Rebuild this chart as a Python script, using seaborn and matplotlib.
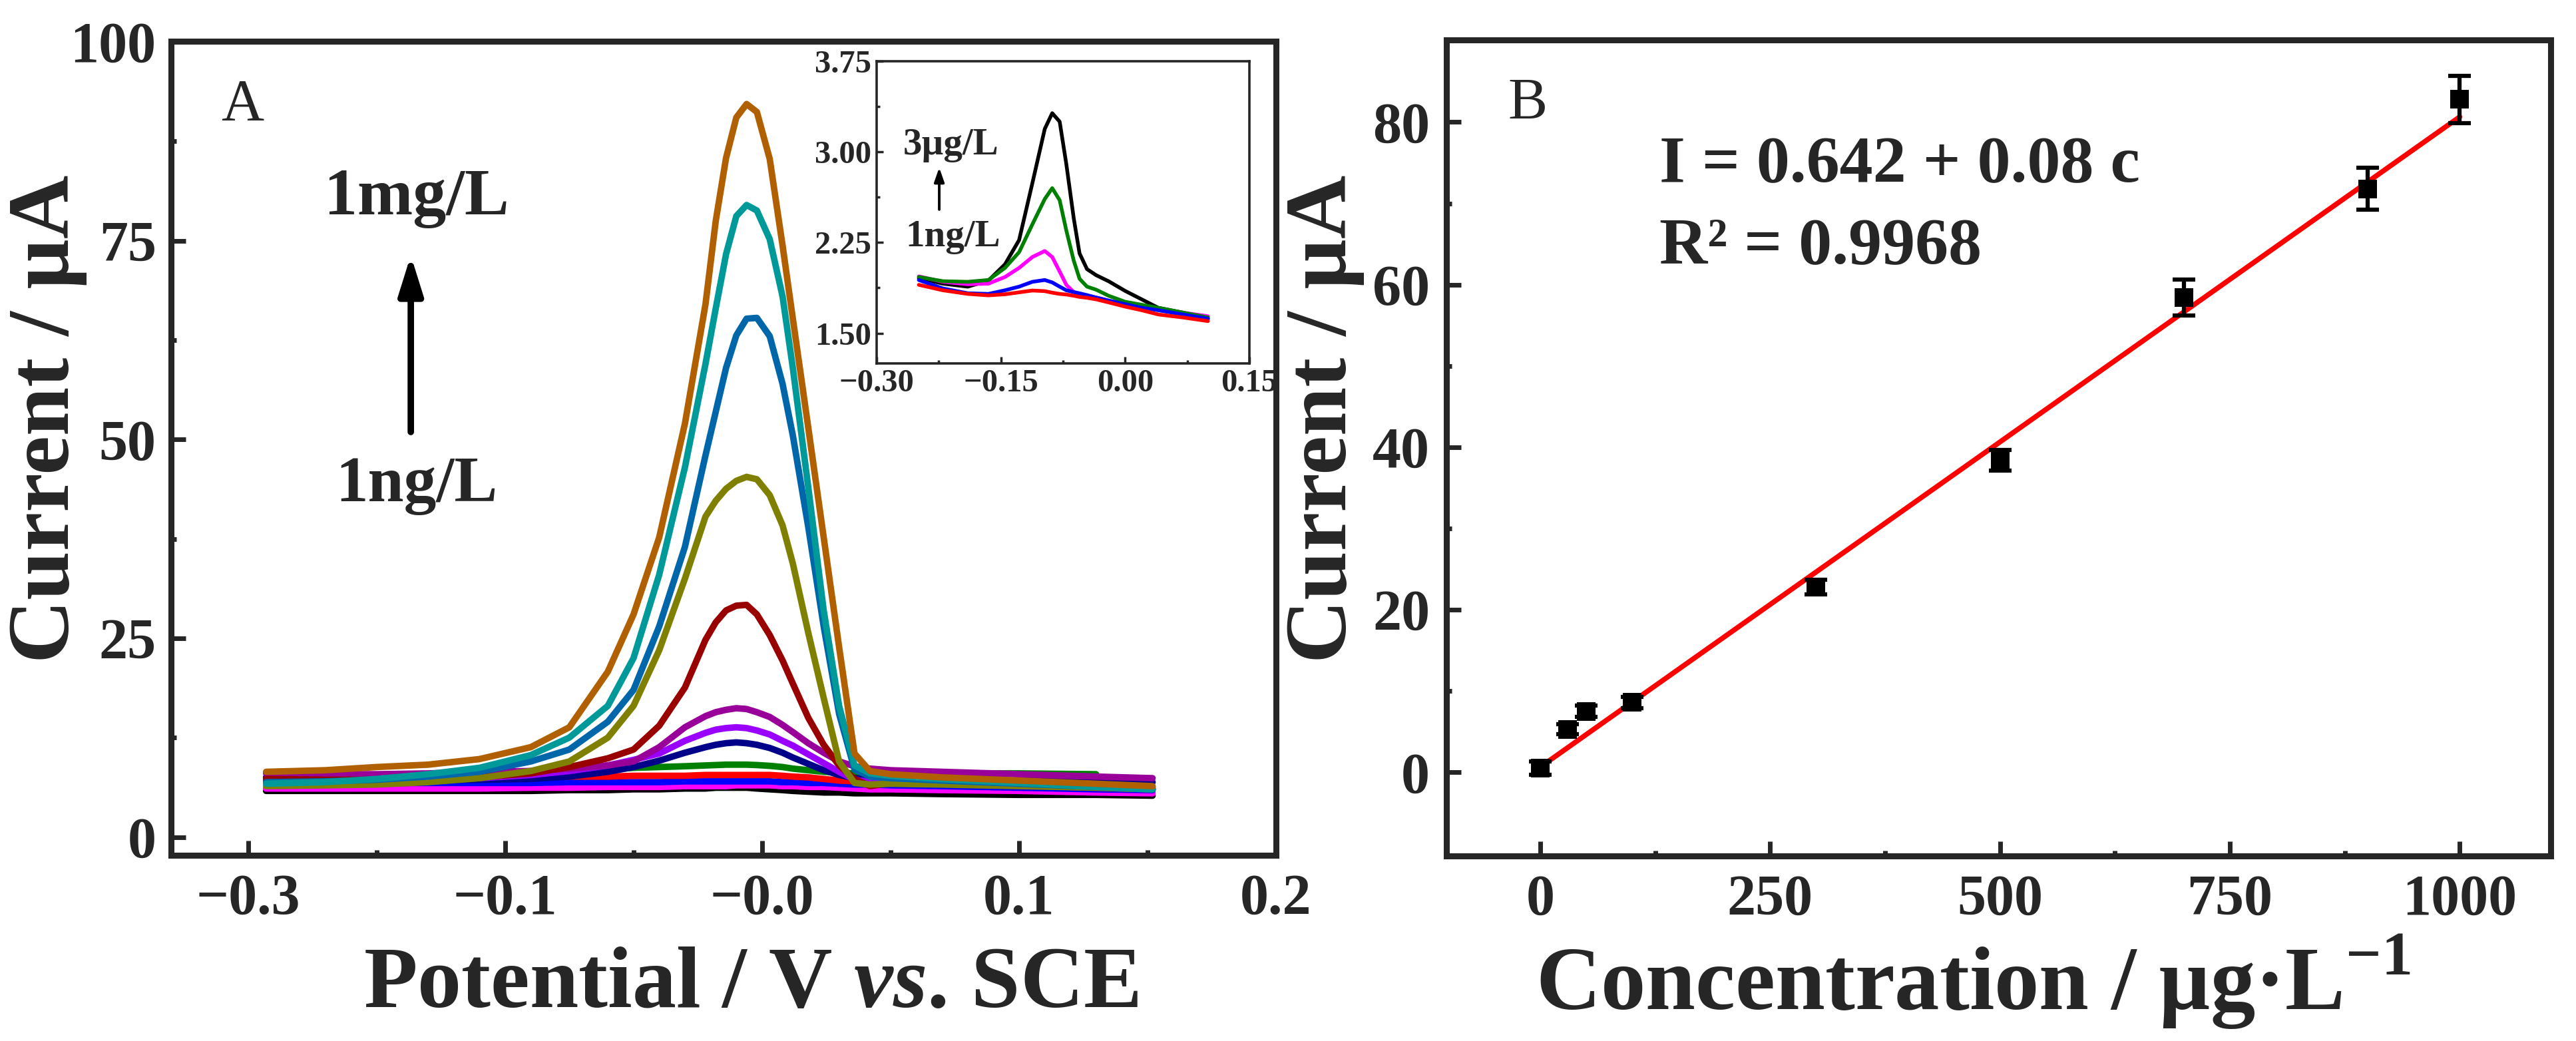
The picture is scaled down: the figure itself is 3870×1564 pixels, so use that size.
import numpy as np
import pandas as pd
import matplotlib
matplotlib.use("Agg")
import matplotlib.pyplot as plt
import seaborn as sns

# ---------------- panel A : DPV curves, 1 ng/L (bottom) ... 1 mg/L (top)
# x in the tick units of the original axis (ticks are relabelled below)
potential = [-0.193, -0.17, -0.15, -0.13, -0.11, -0.09, -0.075, -0.06, -0.05, -0.04,
             -0.03, -0.022, -0.018, -0.014, -0.010, -0.006, -0.002, 0.003, 0.008, 0.012,
             0.018, 0.024, 0.030, 0.036, 0.042, 0.05, 0.07, 0.10, 0.13, 0.152]

cur_black = [5.8, 5.8, 5.8, 5.8, 5.8, 5.8, 5.9, 5.9, 6.0, 6.0, 6.1, 6.1, 6.2, 6.2, 6.2,
             6.2, 6.1, 6.0, 5.9, 5.8, 5.7, 5.6, 5.6, 5.5, 5.5, 5.5, 5.4, 5.3, 5.3, 5.2]
cur_magenta = [6.1, 6.1, 6.1, 6.1, 6.1, 6.2, 6.2, 6.3, 6.3, 6.3, 6.4, 6.4, 6.4, 6.4, 6.5,
               6.5, 6.5, 6.5, 6.4, 6.4, 6.3, 6.3, 6.2, 6.1, 6.0, 6.0, 5.9, 5.8, 5.6, 5.5]
cur_blue = [6.8, 6.8, 6.8, 6.8, 6.8, 6.8, 6.9, 6.9, 6.9, 6.9, 7.0, 7.0, 7.0, 7.0, 7.0,
            7.0, 7.0, 7.0, 6.9, 6.9, 6.8, 6.8, 6.7, 6.6, 6.6, 6.5, 6.4, 6.2, 6.0, 5.9]
cur_red = [7.5, 7.5, 7.5, 7.5, 7.5, 7.6, 7.6, 7.6, 7.7, 7.7, 7.7, 7.8, 7.8, 7.8, 7.8,
           7.8, 7.8, 7.8, 7.7, 7.6, 7.5, 7.3, 7.1, 7.0, 6.9, 6.8, 6.7, 6.5, 6.3, 6.1]
cur_green = [7.2, 7.2, 7.3, 7.4, 7.6, 7.9, 8.2, 8.5, 8.7, 8.8, 8.9, 9.0, 9.05, 9.1, 9.1,
             9.1, 9.05, 8.95, 8.8, 8.6, 8.4, 8.2, 8.1, 8.0, 8.0, 8.0, 8.0, 8.0, 7.9, np.nan]
cur_navy = [7.5, 7.4, 7.3, 7.2, 7.2, 7.3, 7.6, 8.2, 8.8, 9.6, 10.6, 11.3, 11.6, 11.8, 11.9,
            11.8, 11.6, 11.2, 10.6, 10.0, 9.2, 8.4, 7.8, 7.4, 7.3, 7.3, 7.2, 7.1, 7.0, 6.9]
cur_violet = [7.2, 7.1, 7.1, 7.2, 7.4, 7.8, 8.3, 9.0, 9.7, 10.5, 12.1, 13.1, 13.5, 13.7, 13.8,
              13.7, 13.4, 12.9, 12.1, 11.5, 10.4, 9.3, 8.2, 7.2, 6.9, 7.0, 6.8, 6.5, 6.2, 6.0]
cur_purple = [8.0, 7.9, 7.9, 8.0, 8.2, 8.3, 8.6, 9.0, 9.5, 11.3, 13.8, 15.2, 15.7, 16.0, 16.2,
              16.1, 15.7, 15.1, 14.1, 13.2, 11.8, 10.6, 9.5, 8.9, 8.6, 8.4, 8.2, 7.9, 7.6, 7.4]
cur_wine = [7.3, 7.2, 7.2, 7.3, 7.5, 8.0, 8.8, 9.9, 11.0, 14.0, 18.8, 24.8, 27.0, 28.5, 29.1,
            29.2, 28.0, 25.4, 22.2, 19.3, 15.0, 11.6, 9.0, 7.3, 6.4, 6.8, 6.9, 6.7, 6.5, 6.3]
cur_olive = [6.4, 6.5, 6.6, 6.9, 7.4, 8.3, 9.5, 12.5, 16.5, 23.5, 32.5, 40.3, 42.3, 43.8, 44.8,
             45.3, 45.0, 43.0, 39.2, 34.4, 25.7, 17.5, 9.5, 6.8, 6.6, 6.7, 6.6, 6.4, 6.2, 6.0]
cur_steel = [6.9, 7.0, 7.2, 7.6, 8.2, 9.5, 11.0, 14.5, 18.5, 26.5, 36.5, 48.0, 53.5, 59.0, 63.1,
             65.2, 65.3, 63.0, 57.0, 50.5, 39.0, 26.5, 15.5, 8.5, 7.6, 7.4, 7.1, 6.7, 6.3, 6.0]
cur_teal = [6.7, 6.9, 7.3, 7.9, 8.7, 10.3, 12.5, 16.5, 22.5, 33.0, 46.5, 59.5, 66.5, 73.3, 78.1,
            79.5, 78.8, 75.2, 68.0, 59.0, 44.0, 28.5, 16.5, 9.0, 8.0, 7.7, 7.3, 6.8, 6.3, 6.0]
cur_orange = [8.2, 8.4, 8.8, 9.1, 9.8, 11.3, 13.8, 20.8, 28.0, 37.7, 52.0, 67.0, 77.5, 85.4, 90.5,
              92.2, 91.2, 85.3, 74.4, 65.2, 51.5, 37.7, 23.9, 10.5, 8.3, 7.9, 7.5, 7.1, 6.7, 6.4]

curve_names = ["black", "magenta", "blue", "red", "green", "navy", "violet",
               "purple", "wine", "olive", "steel", "teal", "orange"]
curve_colors = ["#000000", "#ff00ff", "#0000ff", "#ff0000", "#008000", "#000088", "#9900ff",
                "#990099", "#990000", "#808000", "#0066aa", "#009999", "#b06000"]
a_xticks = [-0.2, -0.1, 0.0, 0.1, 0.2]
a_xticklabels = ["\u22120.3", "\u22120.1", "\u22120.0", "0.1", "0.2"]

# ---------------- inset : low concentrations
inset_potential = [-0.249, -0.22, -0.19, -0.165, -0.145, -0.128, -0.112, -0.097, -0.088, -0.079,
                   -0.071, -0.062, -0.055, -0.046, -0.035, -0.02, 0.0, 0.02, 0.04, 0.07, 0.10]
ins_black = [1.956, 1.91, 1.885, 1.935, 2.07, 2.27, 2.74, 3.19, 3.32, 3.25, 2.90, 2.45, 2.16,
             2.03, 1.98, 1.93, 1.85, 1.78, 1.71, 1.67, 1.62]
ins_green = [1.965, 1.93, 1.925, 1.94, 2.04, 2.17, 2.40, 2.61, 2.70, 2.60, 2.35, 2.10, 1.95,
             1.885, 1.86, 1.81, 1.76, 1.735, 1.71, 1.67, 1.63]
ins_magenta = [1.97, 1.925, 1.905, 1.91, 1.965, 2.04, 2.13, 2.18, 2.13, 2.01, 1.90, 1.84, 1.825,
               1.81, 1.795, 1.77, 1.74, 1.72, 1.70, 1.67, 1.64]
ins_blue = [1.94, 1.87, 1.83, 1.825, 1.855, 1.885, 1.925, 1.94, 1.92, 1.885, 1.855, 1.84, 1.83,
            1.815, 1.795, 1.77, 1.74, 1.71, 1.69, 1.655, 1.62]
ins_red = [1.90, 1.855, 1.825, 1.813, 1.822, 1.838, 1.853, 1.848, 1.835, 1.825, 1.82, 1.81, 1.80,
           1.793, 1.78, 1.755, 1.72, 1.69, 1.655, 1.63, 1.60]
inset_names = ["black", "magenta", "green", "blue", "red"]
inset_colors = ["#000000", "#ff00ff", "#008000", "#0000ff", "#ff0000"]

# ---------------- panel B : calibration
conc = [0, 30, 50, 100, 300, 500, 700, 900, 1000]
peak_current = [0.5, 5.3, 7.5, 8.6, 22.8, 38.4, 58.4, 71.8, 82.8]
peak_err = [0.8, 0.6, 0.7, 0.7, 0.9, 1.3, 2.2, 2.6, 2.9]
fit_intercept = 0.642
fit_slope = 0.08

# ---------------- style
sns.set_style("ticks")
plt.rcParams["font.family"] = ["Liberation Serif", "DejaVu Serif"]
plt.rcParams["font.weight"] = "bold"
plt.rcParams["mathtext.fontset"] = "custom"
plt.rcParams["mathtext.rm"] = "Liberation Serif:bold"
plt.rcParams["mathtext.bf"] = "Liberation Serif:bold"
plt.rcParams["mathtext.bfit"] = "Liberation Serif:bold:italic"
plt.rcParams["axes.linewidth"] = 6.5

fig = plt.figure(figsize=(38.7, 15.64), dpi=100)
axA = fig.add_axes([0.0664, 0.1784, 0.4289, 0.7820])
axB = fig.add_axes([0.5615, 0.1777, 0.4287, 0.7839])
axI = fig.add_axes([0.3403, 0.6509, 0.1447, 0.2903])


def style_ticks(ax, size, pad_x, pad_y, major, minor, width):
    ax.tick_params(axis="both", which="both", direction="in", top=False, right=False,
                   labelsize=size, width=width)
    ax.tick_params(axis="both", which="major", length=major)
    ax.tick_params(axis="both", which="minor", length=minor)
    ax.tick_params(axis="x", which="major", pad=pad_x)
    ax.tick_params(axis="y", which="major", pad=pad_y)
    for lab in ax.get_xticklabels() + ax.get_yticklabels():
        lab.set_fontweight("bold")


# ---- panel A
dfA = pd.DataFrame({"potential": potential, "black": cur_black, "magenta": cur_magenta,
                    "blue": cur_blue, "red": cur_red, "green": cur_green, "navy": cur_navy,
                    "violet": cur_violet, "purple": cur_purple, "wine": cur_wine,
                    "olive": cur_olive, "steel": cur_steel, "teal": cur_teal,
                    "orange": cur_orange})
longA = dfA.melt(id_vars="potential", var_name="curve", value_name="current")
sns.lineplot(data=longA, x="potential", y="current", hue="curve", hue_order=curve_names,
             palette=curve_colors, estimator=None, sort=False, linewidth=7,
             legend=False, ax=axA)
axA.set_xlim(-0.23, 0.2)
axA.set_ylim(-2.3, 100.1)
axA.set_xticks(a_xticks)
axA.set_xticklabels(a_xticklabels)
axA.set_xticks([-0.15, -0.05, 0.05, 0.15], minor=True)
axA.set_yticks([0, 25, 50, 75, 100])
axA.set_yticks([12.5, 37.5, 62.5, 87.5], minor=True)
style_ticks(axA, 62, 20, 16, 16, 6, 5)
axA.set_xlabel(r"Potential / V $\mathbfit{vs}$. SCE", fontsize=95, fontweight="bold")
axA.set_ylabel("Current / \u00b5A", fontsize=95, fontweight="bold")
axA.xaxis.set_label_coords(0.525, -0.112)
axA.yaxis.set_label_coords(-0.076, 0.536)

axA.text(0.045, 0.9035, "A", transform=axA.transAxes, fontsize=64, fontweight="normal",
         ha="left", va="baseline")
axA.text(0.222, 0.787, "1mg/L", transform=axA.transAxes, fontsize=72, ha="center",
         va="baseline")
axA.text(0.222, 0.435, "1ng/L", transform=axA.transAxes, fontsize=70, ha="center",
         va="baseline")
axA.annotate("", xy=(0.217, 0.737), xytext=(0.217, 0.520), xycoords="axes fraction",
             arrowprops=dict(arrowstyle="-|>,head_length=0.8,head_width=0.25",
                             mutation_scale=44, lw=7, color="black",
                             shrinkA=0, shrinkB=0))

# ---- inset
dfI = pd.DataFrame({"potential": inset_potential, "black": ins_black, "magenta": ins_magenta,
                    "green": ins_green, "blue": ins_blue, "red": ins_red})
longI = dfI.melt(id_vars="potential", var_name="curve", value_name="current")
sns.lineplot(data=longI, x="potential", y="current", hue="curve", hue_order=inset_names,
             palette=inset_colors, estimator=None, sort=False, linewidth=4,
             legend=False, ax=axI)
axI.set_xlim(-0.30, 0.15)
axI.set_ylim(1.25, 3.75)
axI.set_xticks([-0.30, -0.15, 0.0, 0.15])
axI.set_xticklabels(["\u22120.30", "\u22120.15", "0.00", "0.15"])
axI.set_xticks([-0.225, -0.075, 0.075], minor=True)
axI.set_yticks([1.5, 2.25, 3.0, 3.75])
axI.set_yticklabels(["1.50", "2.25", "3.00", "3.75"])
axI.set_yticks([1.875, 2.625, 3.375], minor=True)
for sp in axI.spines.values():
    sp.set_linewidth(2.6)
style_ticks(axI, 35, 6, 6, 7, 3.5, 2.5)
axI.set_xlabel("")
axI.set_ylabel("")
axI.text(0.20, 0.692, "3\u00b5g/L", transform=axI.transAxes, fontsize=41, ha="center",
         va="baseline")
axI.text(0.204, 0.388, "1ng/L", transform=axI.transAxes, fontsize=41, ha="center",
         va="baseline")
axI.annotate("", xy=(0.168, 0.648), xytext=(0.168, 0.509), xycoords="axes fraction",
             arrowprops=dict(arrowstyle="-|>,head_length=0.8,head_width=0.28",
                             mutation_scale=16, lw=2.8, color="black",
                             shrinkA=0, shrinkB=0))

# ---- panel B
dfB = pd.DataFrame({"conc": conc, "current": peak_current, "err": peak_err})
fit_x = [0, 1000]
fit_y = [fit_intercept + fit_slope * c for c in fit_x]
sns.lineplot(x=fit_x, y=fit_y, color="#ff0000", linewidth=5.5, ax=axB)
axB.errorbar(dfB["conc"], dfB["current"], yerr=dfB["err"], fmt="none", ecolor="black",
             elinewidth=4.5, capsize=12, capthick=4.5, zorder=3)
sns.scatterplot(data=dfB, x="conc", y="current", marker="s", s=380, color="black",
                linewidth=0, zorder=4, ax=axB)
axB.set_xlim(-102, 1099)
axB.set_ylim(-10.3, 90.1)
axB.set_xticks([0, 250, 500, 750, 1000])
axB.set_xticks([125, 375, 625, 875], minor=True)
axB.set_yticks([0, 20, 40, 60, 80])
axB.set_yticks([10, 30, 50, 70], minor=True)
style_ticks(axB, 62, 20, 18, 16, 6, 5)
axB.set_xlabel("Concentration / \u00b5g\u00b7L$^{-1}$", fontsize=97, fontweight="bold")
axB.set_ylabel("Current / \u00b5A", fontsize=95, fontweight="bold")
axB.xaxis.set_label_coords(0.477, -0.093)
axB.yaxis.set_label_coords(-0.074, 0.536)

axB.text(0.056, 0.904, "B", transform=axB.transAxes, fontsize=64, fontweight="normal",
         ha="left", va="baseline")
axB.text(0.193, 0.826, "I = 0.642 + 0.08 c", transform=axB.transAxes, fontsize=72,
         ha="left", va="baseline")
axB.text(0.193, 0.727, "R\u00b2 = 0.9968", transform=axB.transAxes, fontsize=72,
         ha="left", va="baseline")

fig.savefig("out.png", dpi=100)
